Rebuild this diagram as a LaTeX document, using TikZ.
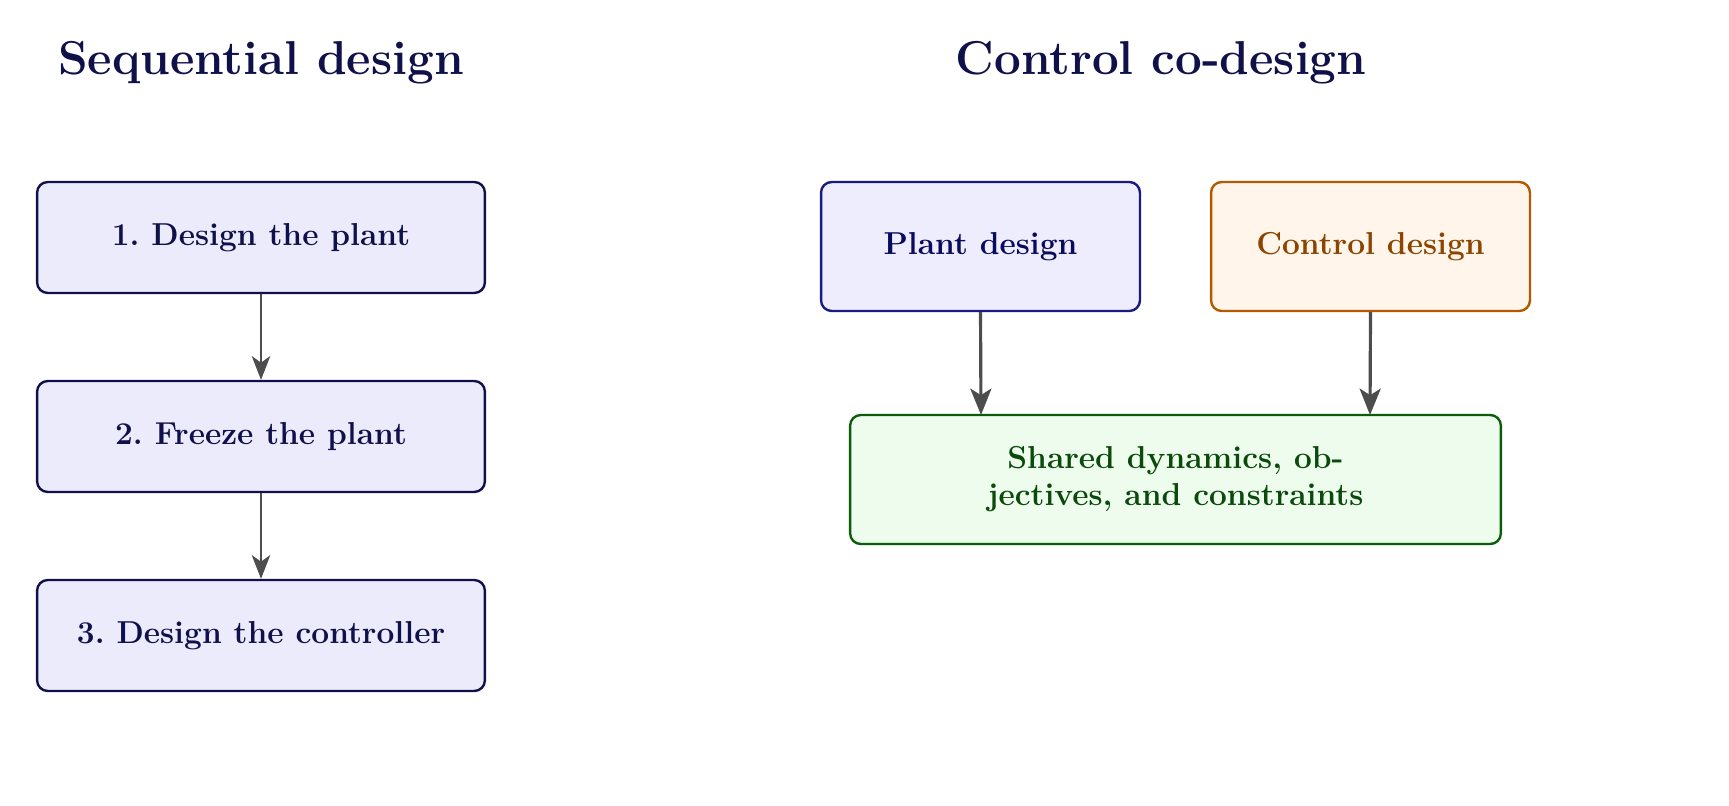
\documentclass[tikz,border=0pt]{standalone}
\usetikzlibrary{arrows.meta}
\definecolor{navy}{HTML}{10104A}
\definecolor{lfill}{HTML}{EBEBFC}
\definecolor{pdraw}{HTML}{1A1A80}
\definecolor{ptext}{HTML}{0A0A5F}
\definecolor{pfill}{HTML}{EDEDFD}
\definecolor{cdraw}{HTML}{B35900}
\definecolor{ctext}{HTML}{8B4500}
\definecolor{cfill}{HTML}{FFF5EB}
\definecolor{gdraw}{HTML}{0B5D0B}
\definecolor{gtext}{HTML}{0A4A0A}
\definecolor{gfill}{HTML}{EEFCEE}
\definecolor{arr}{HTML}{4D4D4D}
\begin{document}
\begin{tikzpicture}[x=0.0133cm,y=-0.0133cm,
  box/.style={draw, rounded corners=4pt, line width=0.9pt, inner sep=0pt, font=\bfseries\large},
  lbox/.style={box, draw=navy, fill=lfill, text=navy, minimum width=5.958cm, minimum height=1.476cm},
  rbox/.style={box, minimum width=4.243cm, minimum height=1.716cm},
  title/.style={font=\bfseries\fontsize{18}{22}\selectfont, text=navy},
  a1/.style={-{Stealth[length=9pt,width=7pt,inset=2.5pt]}, draw=arr, line width=0.8pt},
  a2/.style={-{Stealth[length=10pt,width=8pt,inset=2.5pt]}, draw=arr, line width=1.2pt}]
\node[title] (t1) at (261,63) {Sequential design};
\node[title] (t2) at (1161,63) {Control co-design};
\node[lbox] (b1) at (261,237.5) {1.\ Design the plant};
\node[lbox] (b2) at (261,436.5) {2.\ Freeze the plant};
\node[lbox] (b3) at (261,635.5) {3.\ Design the controller};
\draw[a1] (b1) -- (b2);
\draw[a1] (b2) -- (b3);
\node[rbox, draw=pdraw, fill=pfill, text=ptext] (p) at (980.5,246.5) {Plant design};
\node[rbox, draw=cdraw, fill=cfill, text=ctext] (c) at (1370.5,246.5) {Control design};
\node[box, draw=gdraw, fill=gfill, text=gtext, minimum width=8.658cm, minimum height=1.716cm, align=center] (g) at (1175.5,479.5) {Shared dynamics, ob-\\jectives, and constraints};
\coordinate (g1) at (981,415);
\coordinate (g2) at (1370,415);
\draw[a2] (p.south) -- (g1);
\draw[a2] (c.south) -- (g2);
\pgfresetboundingbox
\path[use as bounding box] (0,0) rectangle (1729,805);
\end{tikzpicture}
\end{document}
